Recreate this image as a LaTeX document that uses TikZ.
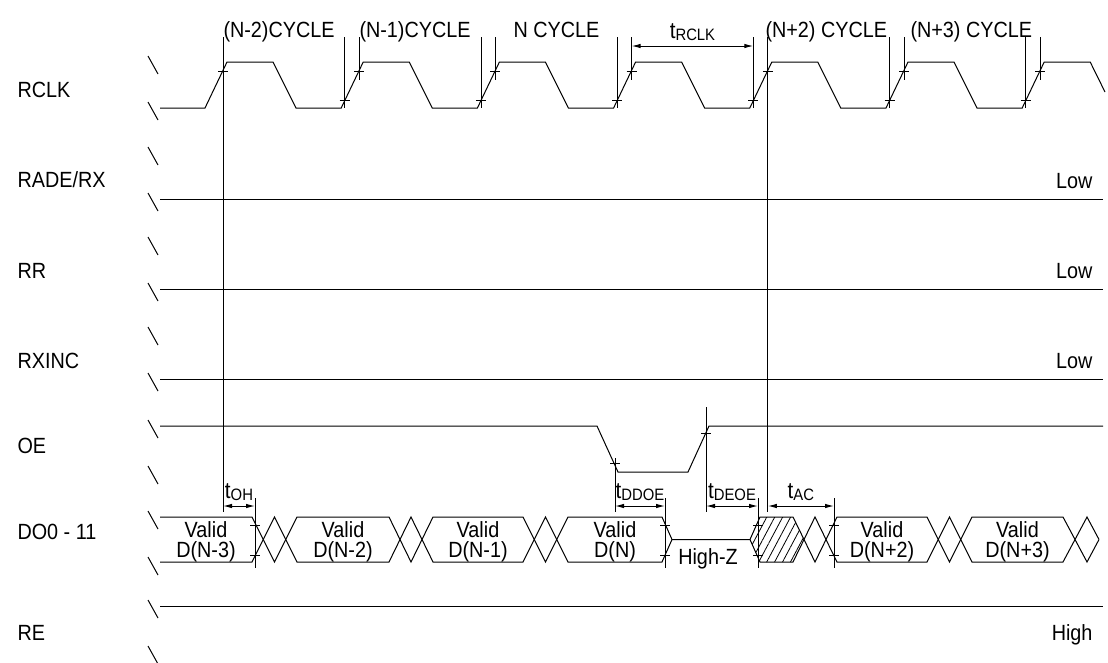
\documentclass[tikz,border=0pt]{standalone}
\usepackage{fontspec}
\setmainfont{Liberation Sans}[FakeStretch=0.9]
\usetikzlibrary{arrows.meta,patterns.meta}

\def\<#1>{{\fontsize{23}{23}\selectfont t}\raisebox{-2pt}{\fontsize{16.5}{16.5}\selectfont #1}}

\begin{document}
\begin{tikzpicture}[
            x=1pt, y=-1pt,
            line width=1pt,
            >={Latex[length=9pt,width=4.5pt]},
            every node/.style={font=\fontsize{22}{20}\selectfont, inner sep=0pt},
            ref/.style={line width=0.7pt},
        ]
            \useasboundingbox (0,0) rectangle (1108,662);
            % signal names
            \node[anchor=base west] (rclk) at (17,97) {RCLK};
            \node[anchor=base west] (rade) at (17,187) {RADE/RX};
            \node[anchor=base west] (rr) at (17,278) {RR};
            \node[anchor=base west] (rxinc) at (17,368) {RXINC};
            \node[anchor=base west] (oe) at (17,453) {OE};
            \node[anchor=base west] (do) at (17,539) {DO0 - 11};
            \node[anchor=base west] (re) at (17,640) {RE};
            \foreach \y in {62,108,153,199,243,289,333,379,426,472,517,563,606,652}
                \draw (148,\y-6) -- (158,\y+12);
            % RCLK
            \draw (160,108) \foreach \r in {205,341.2,477.4,613.6,749.8,886} {-- (\r,108) -- (\r+22,62) -- (\r+68,62) -- (\r+91,108)}
                -- (1022.2,108) -- (1044.2,62) -- (1090.2,62) -- (1105,92);
            \node[anchor=base west] (cyc2) at (223,37) {(N-2)CYCLE};
            \node[anchor=base west] (cyc1) at (359,37) {(N-1)CYCLE};
            \node[anchor=base west] (cyc0) at (513,37) {N CYCLE};
            \node[anchor=base west] (cyc3) at (765,37) {(N+2) CYCLE};
            \node[anchor=base west] (cyc4) at (910,37) {(N+3) CYCLE};
            \draw[ref] (223,37) -- (223,512);
            \draw[ref] (218,71) -- (228,71);
            \foreach \r in {341.2,477.4,613.6,749.8,886,1022.2} {
                \draw[ref] (\r+3.5,37) -- (\r+3.5,108);
                \draw[ref] (\r+18,37) -- (\r+18,80);
                \draw[ref] (\r-1.5,100) -- (\r+8.5,100);
                \draw[ref] (\r+13,71) -- (\r+23,71);
            }
            \draw[ref] (767.8,80) -- (767.8,512);
            \coordinate (rclkA) at (631.6,46);
            \coordinate (rclkB) at (753.3,46);
            \path[<->] (rclkA) edge node[midway, above=5pt] {\<RCLK>} (rclkB);
            % static lines
            \draw (160,199) -- (1103,199);
            \node[anchor=base east] (low1) at (1093,188) {Low};
            \draw (160,289) -- (1103,289);
            \node[anchor=base east] (low2) at (1093,278) {Low};
            \draw (160,379) -- (1103,379);
            \node[anchor=base east] (low3) at (1093,368) {Low};
            \draw (160,606) -- (1103,606);
            \node[anchor=base east] (high) at (1093,640) {High};
            % OE
            \draw (160,426) -- (597,426) -- (618,472) -- (688,472) -- (709,426) -- (1103,426);
            \draw[ref] (615,458) -- (615,512);
            \draw[ref] (610,463) -- (620,463);
            \draw[ref] (706,407) -- (706,512);
            \draw[ref] (701,433) -- (711,433);
            % DO0 - 11
            \fill[pattern={Lines[angle=62,distance=7pt,line width=0.8pt]}] (750,539.5) -- (760,517) -- (793,517) -- (804,539.5) -- (793,562) -- (760,562) -- cycle;
            \draw (160,517) -- (252,517) -- (274.5,562) -- (297,517) -- (389,517) -- (411,562) -- (433,517) -- (523,517) -- (545.5,562) -- (568,517) -- (662,517)
                -- (672,539.5) -- (750,539.5) -- (760,517) -- (793,517) -- (815,562) -- (837,517) -- (927,517) -- (949.5,562) -- (972,517) -- (1063,517) -- (1087,562) -- (1099,539.5);
            \draw (160,562) -- (252,562) -- (274.5,517) -- (297,562) -- (389,562) -- (411,517) -- (433,562) -- (523,562) -- (545.5,517) -- (568,562) -- (662,562) -- (672,539.5);
            \draw (750,539.5) -- (760,562) -- (793,562) -- (815,517) -- (837,562) -- (927,562) -- (949.5,517) -- (972,562) -- (1063,562) -- (1087,517) -- (1099,539.5);
            \node[align=center] (d3) at (206,542) {Valid\\D(N-3)};
            \node[align=center] (d2) at (343,542) {Valid\\D(N-2)};
            \node[align=center] (d1) at (478,542) {Valid\\D(N-1)};
            \node[align=center] (d0) at (615,542) {Valid\\D(N)};
            \node[align=center] (dp2) at (882,542) {Valid\\D(N+2)};
            \node[align=center] (dp3) at (1017.5,542) {Valid\\D(N+3)};
            \node[anchor=base] (hiz) at (708,564) {High-Z};
            \foreach \x in {255,665,758,834} {
                \draw[ref] (\x,498) -- (\x,568);
                \draw[ref] (\x-5,525) -- (\x+5,525);
                \draw[ref] (\x-5,555) -- (\x+5,555);
            }
            \coordinate (ohA) at (223,506);
            \coordinate (ohB) at (255,506);
            \path[<->] (ohA) edge node[midway, above=5pt] {\<OH>} (ohB);
            \coordinate (ddoeA) at (615,506);
            \coordinate (ddoeB) at (665,506);
            \path[<->] (ddoeA) edge node[midway, above=5pt] {\<DDOE>} (ddoeB);
            \coordinate (deoeA) at (706,506);
            \coordinate (deoeB) at (758,506);
            \path[<->] (deoeA) edge node[midway, above=5pt] {\<DEOE>} (deoeB);
            \coordinate (acA) at (767.8,506);
            \coordinate (acB) at (834,506);
            \path[<->] (acA) edge node[midway, above=5pt] {\<AC>} (acB);
        \end{tikzpicture}
\end{document}
